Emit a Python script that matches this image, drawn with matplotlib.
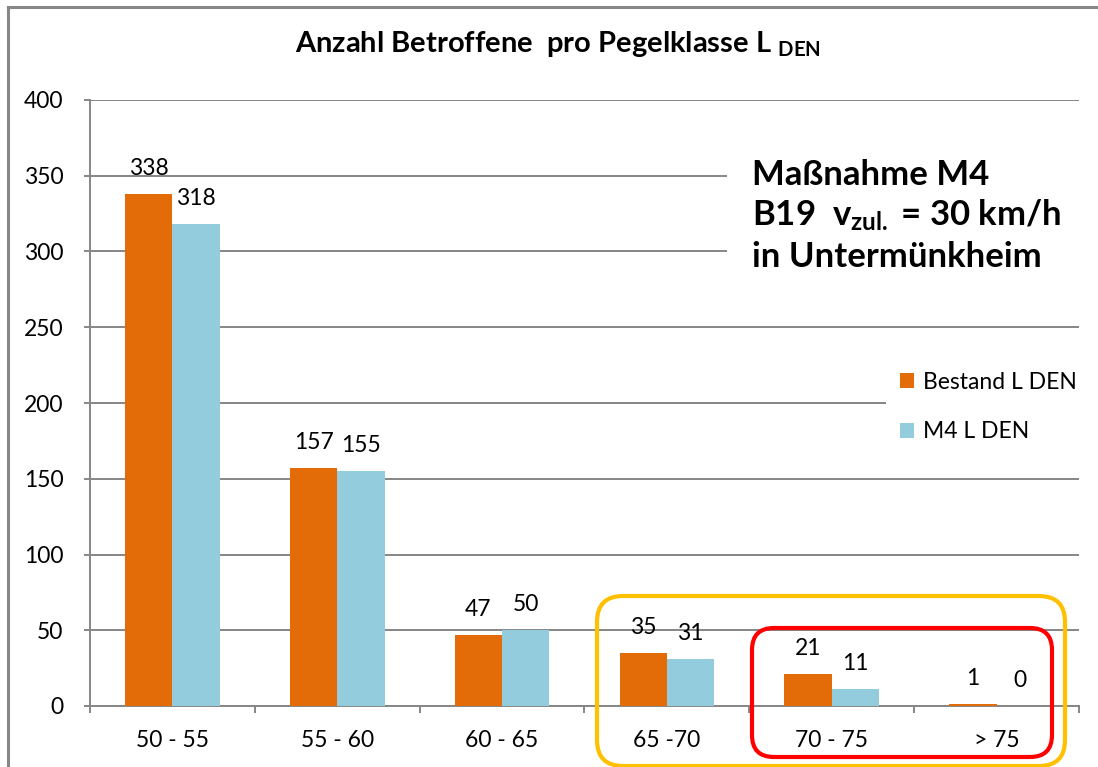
import numpy as np
import matplotlib
matplotlib.use("Agg")
import matplotlib.pyplot as plt
from matplotlib.patches import FancyBboxPatch, Rectangle
from matplotlib.lines import Line2D
from matplotlib.transforms import IdentityTransform

# Data
categories = ["50 - 55", "55 - 60", "60 - 65", "65 -70", "70 - 75", "> 75"]
bestand = [338, 157, 47, 35, 21, 1]
m4 = [318, 155, 50, 31, 11, 0]
series_names = ["Bestand L DEN", "M4 L DEN"]
y_ticks = [0, 50, 100, 150, 200, 250, 300, 350, 400]

ORANGE = "#E36C09"
BLUE = "#93CDDD"
GRID = "#868686"

plt.rcParams["font.family"] = ["Lato", "DejaVu Sans"]
plt.rcParams["mathtext.fontset"] = "custom"
plt.rcParams["mathtext.rm"] = "Lato"
plt.rcParams["mathtext.bf"] = "Lato:bold"
plt.rcParams["mathtext.it"] = "Lato:italic"

W, H = 1098, 767
fig = plt.figure(figsize=(W / 100, H / 100), dpi=100)
ax = fig.add_axes([90 / W, 1 - 706 / H, (1079 - 90) / W, (706 - 100) / H])

x = np.arange(len(categories))
bw = 0.287
b1 = ax.bar(x - bw / 2, bestand, bw, color=ORANGE, label=series_names[0], zorder=3)
b2 = ax.bar(x + bw / 2, m4, bw, color=BLUE, label=series_names[1], zorder=3)
for bars in (b1, b2):
    ax.bar_label(bars, padding=11, fontsize=16.5, color="black")

ax.set_xlim(-0.5, len(categories) - 0.5)
ax.set_ylim(0, 400)
ax.set_yticks(y_ticks)
ax.yaxis.grid(True, color=GRID, lw=1.4, zorder=0)
ax.set_axisbelow(True)

# category labels at centres, tick marks at boundaries
ax.set_xticks(x)
ax.set_xticklabels(categories, fontsize=16.5)
ax.set_xticks(np.arange(len(categories) + 1) - 0.5, minor=True)
ax.tick_params(axis="x", which="major", length=0, pad=17)
ax.tick_params(axis="x", which="minor", length=5, width=1.4, color=GRID)
ax.tick_params(axis="y", length=4, width=1.4, color=GRID, pad=15, labelsize=16.5)

for side in ("top", "right"):
    ax.spines[side].set_visible(False)
for side in ("left", "bottom"):
    ax.spines[side].set_color(GRID)
    ax.spines[side].set_linewidth(1.4)

# title with subscript
fig.text(0.508, 1 - 52 / H, r"Anzahl Betroffene  pro Pegelklasse L $_{\mathbf{DEN}}$",
         ha="center", va="baseline", fontsize=21, fontweight="bold")

# white box behind the annotation text, hides the grid lines
fig.patches.append(Rectangle((727, H - 300), 360, 150, transform=IdentityTransform(),
                             facecolor="white", edgecolor="none", zorder=2))
fig.text(752 / W, 1 - 185 / H, "Maßnahme M4", fontsize=25, fontweight="bold",
         va="baseline", zorder=3)
fig.text(752 / W, 1 - 226 / H, r"B19  v$_{\mathbf{zul.}}$ = 30 km/h", fontsize=25,
         fontweight="bold", va="baseline", zorder=3)
fig.text(752 / W, 1 - 267 / H, "in Untermünkheim", fontsize=25, fontweight="bold",
         va="baseline", zorder=3)

leg = fig.legend(loc="center left", bbox_to_anchor=(875 / W, 1 - 407 / H), fontsize=16.5,
                 frameon=True, facecolor="white", edgecolor="none", framealpha=1,
                 handlelength=0.6, handleheight=0.6, handletextpad=0.4,
                 labelspacing=1.25, borderpad=0.6, fancybox=False)

# outer chart frame (cut off at right and bottom)
fig.lines.append(Line2D([8, 8], [H - 7, 0], transform=IdentityTransform(),
                        color="#878787", lw=2.2))
fig.lines.append(Line2D([8, W], [H - 7, H - 7], transform=IdentityTransform(),
                        color="#878787", lw=2.2))

# highlight rounded boxes
fig.patches.append(FancyBboxPatch((597, H - 766), 1065 - 597, 766 - 596,
                                  boxstyle="round,pad=0,rounding_size=26",
                                  transform=IdentityTransform(), facecolor="none",
                                  edgecolor="#FFC000", lw=3, zorder=5))
fig.patches.append(FancyBboxPatch((752, H - 757), 1052 - 752, 757 - 628,
                                  boxstyle="round,pad=0,rounding_size=22",
                                  transform=IdentityTransform(), facecolor="none",
                                  edgecolor="#FF0000", lw=3, zorder=5))

fig.savefig("out.png", dpi=100)
